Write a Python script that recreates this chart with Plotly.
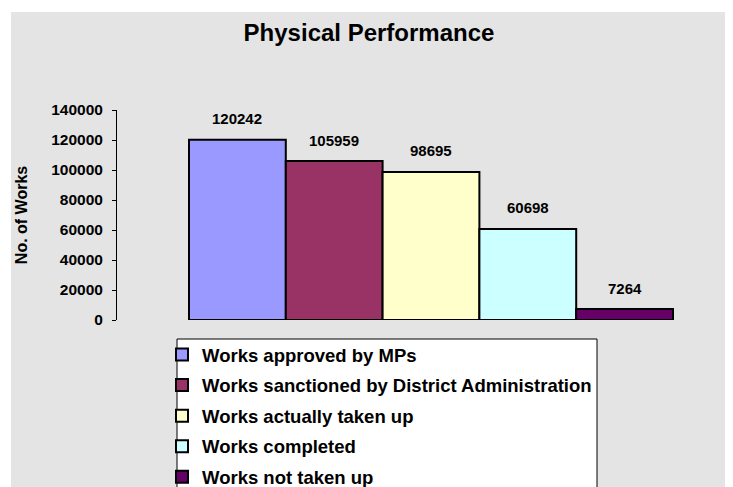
import plotly.graph_objects as go

categories = ["Works approved by MPs",
              "Works sanctioned by District Administration",
              "Works actually taken up",
              "Works completed",
              "Works not taken up"]
values = [120242, 105959, 98695, 60698, 7264]
colors = ["#9999FF", "#993366", "#FFFFCC", "#CCFFFF", "#660066"]
y_ticks = [0, 20000, 40000, 60000, 80000, 100000, 120000, 140000]

FONT = "Liberation Sans, Arial, sans-serif"
W, H = 733, 487
OFF = 8  # page offset of the figure in the screenshot

# target screen positions
AX_X, TOP_Y, ZERO_Y = 117, 110, 320
L = AX_X - OFF
T = TOP_Y - OFF
B = H - (ZERO_Y - OFF)
R = 0
pw, ph = W - L - R, H - T - B

def px2x(sx):
    return (sx - OFF - L) / pw

def py2y(sy):
    return (H - B - (sy - OFF)) / ph

fig = go.Figure()
for i, (name, v, c) in enumerate(zip(categories, values, colors)):
    fig.add_trace(go.Bar(
        x=[i], y=[v], name=name, width=[1.0],
        marker=dict(color=c, line=dict(color="black", width=2)),
        legendgroup=f"g{i}",
    ))
    fig.add_annotation(x=i, y=v, yshift=21, text=str(v), showarrow=False,
                       font=dict(family=FONT, size=15, color="black", weight="bold"))

unit = 96.8
BAR0 = 189  # screen x of left edge of first bar
left = -0.5 - (BAR0 - AX_X) / unit
right = left + pw / unit

fig.update_layout(
    width=W, height=H,
    margin=dict(l=L, r=R, t=T, b=B, autoexpand=False),
    paper_bgcolor="white",
    plot_bgcolor="rgba(0,0,0,0)",
    barmode="overlay",
    font=dict(family=FONT, color="black", weight="bold"),
    title=dict(text="Physical Performance", x=(369 - OFF) / W, xanchor="center",
               y=1 - (33 - OFF) / H, yanchor="middle",
               font=dict(family=FONT, size=24, color="black", weight="bold")),
    xaxis=dict(visible=False, range=[left, right]),
    yaxis=dict(range=[0, 140000], tickvals=y_ticks, ticktext=[str(t) for t in y_ticks],
               showgrid=False, zeroline=False, showline=True, linecolor="black", linewidth=1,
               ticks="outside", ticklen=4, tickcolor="black", ticklabelstandoff=6,
               tickfont=dict(family=FONT, size=15.5, color="black", weight="bold"),
               title=dict(text="No. of Works", standoff=19,
                          font=dict(family=FONT, size=16, color="black", weight="bold"))),
    legend=dict(x=px2x(162), xanchor="left", y=py2y(336), yanchor="top",
                bgcolor="rgba(0,0,0,0)", borderwidth=0,
                traceorder="grouped", tracegroupgap=3.5,
                font=dict(family=FONT, size=18.5, color="black", weight="bold")),
    showlegend=True,
    shapes=[
        dict(type="rect", xref="paper", yref="paper", layer="below",
             x0=px2x(11), x1=px2x(W + 20), y0=py2y(H + 20), y1=py2y(12),
             fillcolor="#e4e4e4", line=dict(width=0)),
        dict(type="rect", xref="paper", yref="paper", layer="below",
             x0=px2x(177), x1=px2x(597), y0=py2y(H + 30), y1=py2y(339),
             fillcolor="white", line=dict(color="black", width=1)),
    ],
)

fig.write_html("out.html")
